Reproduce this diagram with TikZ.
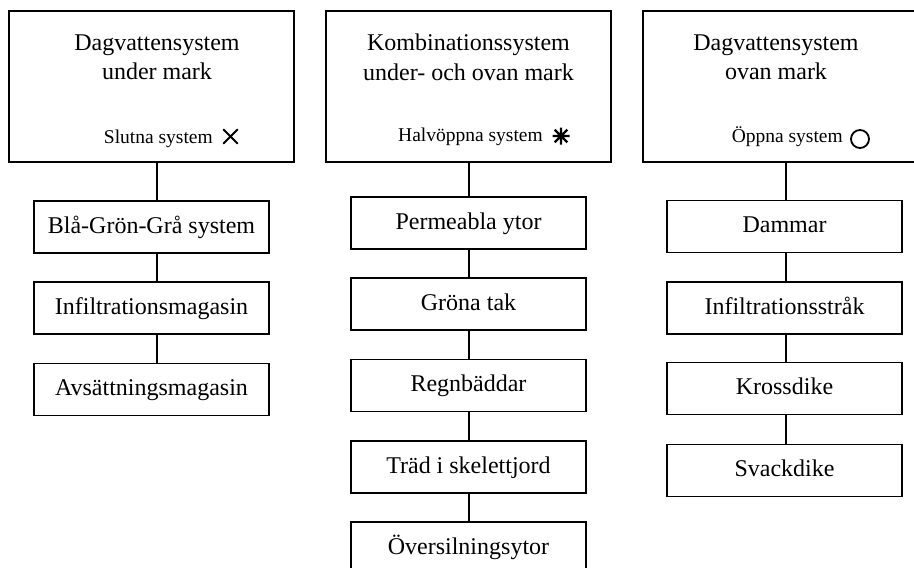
\documentclass[tikz,border=0pt]{standalone}
\usepackage{fontspec}
\usetikzlibrary{calc}
\setmainfont{Liberation Serif}
\begin{document}
\begin{tikzpicture}[x=1pt,y=-1pt,
  frame/.style={draw=black, line width=1.8pt, inner sep=0pt},
  topbox/.style={frame, minimum width=285pt, minimum height=151pt},
  itembox/.style={frame, minimum width=235pt, minimum height=52pt, text height=17pt, text depth=5pt, font=\fontsize{24}{29}\selectfont},
  titletext/.style={anchor=base, inner sep=0pt, font=\fontsize{24}{29}\selectfont},
  smalltext/.style={anchor=base east, inner sep=0pt, font=\fontsize{19.5}{23}\selectfont},
  link/.style={line width=1.8pt},
  symline/.style={line width=2pt, line cap=round},
]
\useasboundingbox (0,0) rectangle (914,568);
\clip (0,0) rectangle (914,568);
\fill[white] (0,0) rectangle (914,568);

% top boxes
\node[topbox] (t1) at (151.5,86.5) {};
\node[topbox] (t2) at (468.5,86.5) {};
\node[topbox] (t3) at (785.5,86.5) {};

\node[titletext] (t1a) at (157,50) {Dagvattensystem};
\node[titletext] (t1b) at (157,79) {under mark};
\node[titletext] (t2a) at (468.5,50) {Kombinationssystem};
\node[titletext] (t2b) at (468.5,80) {under- och ovan mark};
\node[titletext] (t3a) at (776,50) {Dagvattensystem};
\node[titletext] (t3b) at (776,79) {ovan mark};

\node[smalltext] (s1) at (213,143) {Slutna system};
\node[smalltext] (s2) at (543,141) {Halvöppna system};
\node[smalltext] (s3) at (843,142) {Öppna system};

% symbols
\coordinate (m1) at (230.5,136.5);
\draw[symline] ($(m1)+(-7,-7)$) -- ($(m1)+(7,7)$) ($(m1)+(-7,7)$) -- ($(m1)+(7,-7)$);
\coordinate (m2) at (561,136);
\draw[line width=2.2pt] ($(m2)+(0,-8.5)$) -- ($(m2)+(0,8.5)$)
  ($(m2)+(-8.5,0)$) -- ($(m2)+(8.5,0)$)
  ($(m2)+(-6.3,-6.3)$) -- ($(m2)+(6.3,6.3)$)
  ($(m2)+(-6.3,6.3)$) -- ($(m2)+(6.3,-6.3)$);
\coordinate (m3) at (860,139);
\draw[line width=1.8pt] (m3) circle (9);

% left column
\node[itembox] (l1) at (151.5,227) {Blå-Grön-Grå system};
\node[itembox] (l2) at (151.5,308) {Infiltrationsmagasin};
\node[itembox] (l3) at (151.5,389.5) {Avsättningsmagasin};

% middle column
\node[itembox] (c1) at (468.5,223) {Permeabla ytor};
\node[itembox] (c2) at (468.5,304) {Gröna tak};
\node[itembox] (c3) at (468.5,385.5) {Regnbäddar};
\node[itembox] (c4) at (468.5,467) {Träd i skelettjord};
\node[itembox] (c5) at (468.5,548) {Översilningsytor};

% right column
\node[itembox] (r1) at (784.5,226.5) {Dammar};
\node[itembox] (r2) at (784.5,308) {Infiltrationsstråk};
\node[itembox] (r3) at (784.5,388.5) {Krossdike};
\node[itembox] (r4) at (784.5,470.5) {Svackdike};

% connector x positions
\coordinate (xl) at (157,0);
\coordinate (xc) at (469,0);
\coordinate (xr) at (786,0);

\draw[link] (t1.south -| xl) -- (l1.north -| xl);
\draw[link] (l1.south -| xl) -- (l2.north -| xl);
\draw[link] (l2.south -| xl) -- (l3.north -| xl);

\draw[link] (t2.south -| xc) -- (c1.north -| xc);
\draw[link] (c1.south -| xc) -- (c2.north -| xc);
\draw[link] (c2.south -| xc) -- (c3.north -| xc);
\draw[link] (c3.south -| xc) -- (c4.north -| xc);
\draw[link] (c4.south -| xc) -- (c5.north -| xc);

\draw[link] (t3.south -| xr) -- (r1.north -| xr);
\draw[link] (r1.south -| xr) -- (r2.north -| xr);
\draw[link] (r2.south -| xr) -- (r3.north -| xr);
\draw[link] (r3.south -| xr) -- (r4.north -| xr);
\end{tikzpicture}
\end{document}
